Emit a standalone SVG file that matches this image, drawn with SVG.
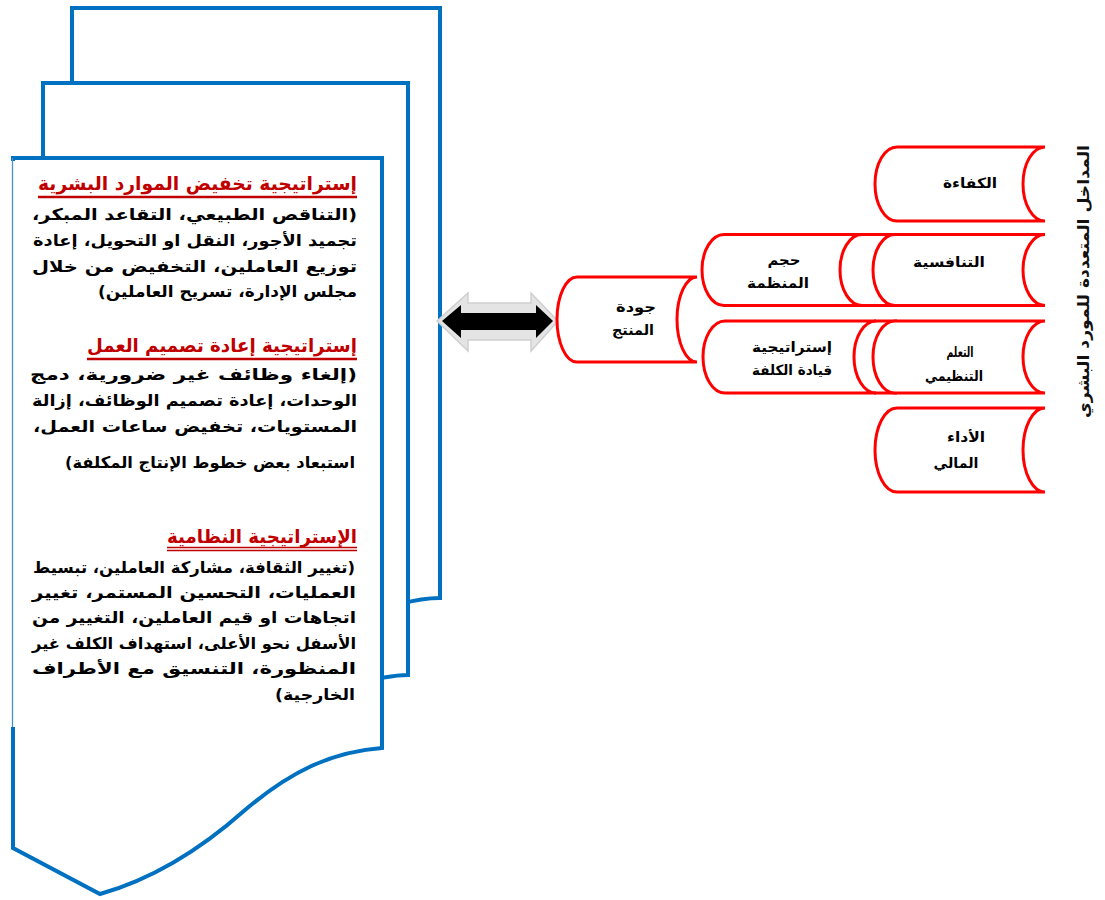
<svg xmlns="http://www.w3.org/2000/svg" width="1105" height="900" viewBox="0 0 1105 900">
<style>
.pg{fill:#fff;stroke:#0070C0;stroke-width:4;stroke-linejoin:miter}
.sh{fill:#fff;stroke:#FF0000;stroke-width:3}
.ln{fill:none;stroke:#FF0000;stroke-width:3}
.h{font-family:"DejaVu Sans",sans-serif;font-weight:bold;font-size:19px;fill:#C00000}
.b{font-family:"DejaVu Sans",sans-serif;font-weight:bold;font-size:16px;fill:#000}
.t{font-family:"DejaVu Sans",sans-serif;font-weight:bold;font-size:14px;fill:#000}
.v{font-family:"DejaVu Sans",sans-serif;font-weight:bold;font-size:16px;fill:#111}
.ul{stroke:#C00000;fill:none}
</style>
<rect width="1105" height="900" fill="#fff"/>

<g id="pages">
  <path class="pg" d="M72,8 H440 V598 C425,598 415,600 400,604 L72,604 Z"/>
  <path class="pg" d="M43,83 H408 V675 C395,675 388,677 375,679 L43,679 Z"/>
  <path class="pg" d="M13,158 H382 V748 C330,752 290,772 245,810 C200,850 150,880 100,894 L13,848 Z"/>
  <line x1="13" y1="161" x2="13" y2="727" stroke="#fff" stroke-width="5"/>
  <line x1="12.5" y1="158" x2="12.5" y2="727" stroke="#4a90d0" stroke-width="1.3"/>
</g>

<g id="block1" direction="rtl">
  <text class="h" x="357" y="190" text-anchor="start" textLength="319" lengthAdjust="spacingAndGlyphs">إستراتيجية تخفيض الموارد البشرية</text>
  <line class="ul" x1="38" y1="197" x2="357" y2="197" stroke-width="2.5"/>
  <text class="b" x="357" y="220" text-anchor="start" textLength="325" lengthAdjust="spacingAndGlyphs">(التناقص الطبيعي، التقاعد المبكر،</text>
  <text class="b" x="357" y="246" text-anchor="start" textLength="324" lengthAdjust="spacingAndGlyphs">تجميد الأجور، النقل او التحويل، إعادة</text>
  <text class="b" x="357" y="272" text-anchor="start" textLength="325" lengthAdjust="spacingAndGlyphs">توزيع العاملين، التخفيض من خلال</text>
  <text class="b" x="357" y="297" text-anchor="start" textLength="259" lengthAdjust="spacingAndGlyphs">مجلس الإدارة، تسريح العاملين)</text>
</g>

<g id="block2" direction="rtl">
  <text class="h" x="357" y="352" text-anchor="start" textLength="270" lengthAdjust="spacingAndGlyphs">إستراتيجية إعادة تصميم العمل</text>
  <line class="ul" x1="87" y1="359" x2="357" y2="359" stroke-width="2.5"/>
  <text class="b" x="357" y="380" text-anchor="start" textLength="327" lengthAdjust="spacingAndGlyphs">(إلغاء وظائف غير ضرورية، دمج</text>
  <text class="b" x="357" y="406" text-anchor="start" textLength="325" lengthAdjust="spacingAndGlyphs">الوحدات، إعادة تصميم الوظائف، إزالة</text>
  <text class="b" x="357" y="432" text-anchor="start" textLength="324" lengthAdjust="spacingAndGlyphs">المستويات، تخفيض ساعات العمل،</text>
  <text class="b" x="355" y="468" text-anchor="start" textLength="290" lengthAdjust="spacingAndGlyphs">استبعاد بعض خطوط الإنتاج المكلفة)</text>
</g>

<g id="block3" direction="rtl">
  <text class="h" x="357" y="543" text-anchor="start" textLength="190" lengthAdjust="spacingAndGlyphs">الإستراتيجية النظامية</text>
  <line class="ul" x1="167" y1="547.5" x2="357" y2="547.5" stroke-width="1.3"/>
  <line class="ul" x1="167" y1="550.5" x2="357" y2="550.5" stroke-width="1.3"/>
  <text class="b" x="355" y="573" text-anchor="start" textLength="322" lengthAdjust="spacingAndGlyphs">(تغيير الثقافة، مشاركة العاملين، تبسيط</text>
  <text class="b" x="356" y="598" text-anchor="start" textLength="324" lengthAdjust="spacingAndGlyphs">العمليات، التحسين المستمر، تغيير</text>
  <text class="b" x="356" y="623" text-anchor="start" textLength="324" lengthAdjust="spacingAndGlyphs">اتجاهات او قيم العاملين، التغيير من</text>
  <text class="b" x="356" y="649" text-anchor="start" textLength="324" lengthAdjust="spacingAndGlyphs">الأسفل نحو الأعلى، استهداف الكلف غير</text>
  <text class="b" x="356" y="674" text-anchor="start" textLength="324" lengthAdjust="spacingAndGlyphs">المنظورة، التنسيق مع الأطراف</text>
  <text class="b" x="355" y="700" text-anchor="start" textLength="80" lengthAdjust="spacingAndGlyphs">الخارجية)</text>
</g>

<g id="arrow">
  <polygon points="437,321 468,293 468,303 531,303 531,293 558,321 531,351 531,340 468,340 468,351" fill="#e4e4e4" stroke="#cfcfcf" stroke-width="1.5"/>
  <polygon points="442,321 461,305 461,313 536,313 536,305 553,321 536,338 536,330 461,330 461,338" fill="#000"/>
</g>

<g id="node-quality">
  <path class="sh" d="M577,277 H697 A20,42.5 0 0 0 697,362 H577 A20,42.5 0 0 1 577,277 Z"/>
  <text class="t" x="636" y="312" text-anchor="middle" direction="rtl" textLength="40" lengthAdjust="spacingAndGlyphs">جودة</text>
  <text class="t" x="633" y="335" text-anchor="middle" direction="rtl" textLength="42" lengthAdjust="spacingAndGlyphs">المنتج</text>
</g>

<g id="node-size">
  <path class="sh" d="M724,234.5 H862 A22,35.5 0 0 0 862,305.5 H724 A22,35.5 0 0 1 724,234.5 Z"/>
  <path class="ln" d="M860,234.5 H897 M860,305.5 H897"/>
  <text class="t" x="784" y="265" text-anchor="middle" direction="rtl" textLength="33" lengthAdjust="spacingAndGlyphs">حجم</text>
  <text class="t" x="778" y="288" text-anchor="middle" direction="rtl" textLength="62" lengthAdjust="spacingAndGlyphs">المنظمة</text>
</g>

<g id="node-costlead">
  <path class="sh" d="M725,321 H876 A22,36 0 0 0 876,393 H725 A22,36 0 0 1 725,321 Z"/>
  <path class="ln" d="M874,321 H897 M874,393 H897"/>
  <text class="t" x="792" y="352" text-anchor="middle" direction="rtl" textLength="80" lengthAdjust="spacingAndGlyphs">إستراتيجية</text>
  <text class="t" x="792" y="375" text-anchor="middle" direction="rtl" textLength="80" lengthAdjust="spacingAndGlyphs">قيادة الكلفة</text>
</g>

<g id="node-efficiency">
  <path class="sh" d="M897,147 H1045 A22,37 0 0 0 1045,221 H897 A22,37 0 0 1 897,147 Z"/>
  <text class="t" x="970" y="188" text-anchor="middle" direction="rtl" textLength="54" lengthAdjust="spacingAndGlyphs">الكفاءة</text>
</g>

<g id="node-competitiveness">
  <path class="sh" d="M895,234.5 H1045 A22,35.5 0 0 0 1045,305.5 H895 A22,35.5 0 0 1 895,234.5 Z"/>
  <text class="t" x="949" y="267" text-anchor="middle" direction="rtl" textLength="72" lengthAdjust="spacingAndGlyphs">التنافسية</text>
</g>

<g id="node-learning">
  <path class="sh" d="M895,321 H1045 A22,36 0 0 0 1045,393 H895 A22,36 0 0 1 895,321 Z"/>
  <text class="t" x="960" y="357" text-anchor="middle" direction="rtl" textLength="27" lengthAdjust="spacingAndGlyphs">التعلم</text>
  <text class="t" x="954" y="381" text-anchor="middle" direction="rtl" textLength="58" lengthAdjust="spacingAndGlyphs">التنظيمي</text>
</g>

<g id="node-financial">
  <path class="sh" d="M897,408 H1045 A22,42 0 0 0 1045,492 H897 A22,42 0 0 1 897,408 Z"/>
  <text class="t" x="966" y="442" text-anchor="middle" direction="rtl" textLength="38" lengthAdjust="spacingAndGlyphs">الأداء</text>
  <text class="t" x="956" y="468" text-anchor="middle" direction="rtl" textLength="45" lengthAdjust="spacingAndGlyphs">المالي</text>
</g>

<g id="title">
  <text class="v" transform="translate(1089,145) rotate(-90)" text-anchor="start" direction="rtl" textLength="273" lengthAdjust="spacingAndGlyphs">المداخل المتعددة للمورد البشري</text>
</g>
</svg>
